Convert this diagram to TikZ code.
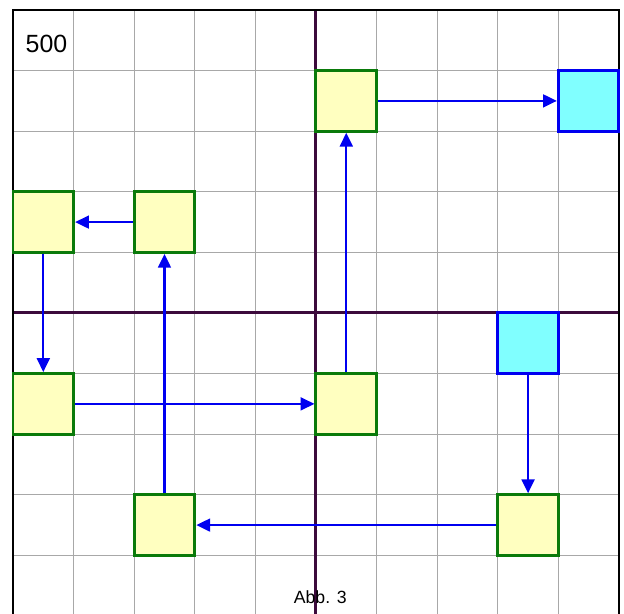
\documentclass[tikz,border=0pt]{standalone}
\usepackage{fontspec}
\setmainfont{Liberation Sans}
\usetikzlibrary{arrows.meta,positioning}
\definecolor{cellgrey}{HTML}{A8A8A8}
\definecolor{axisplum}{HTML}{3C0A3C}
\definecolor{boxgreen}{HTML}{0A7A0A}
\definecolor{boxfill}{HTML}{FFFFC0}
\definecolor{termfill}{HTML}{80FFFF}
\definecolor{flowblue}{HTML}{0000F0}
\tikzset{
  cell/.style={rectangle, draw=boxgreen, fill=boxfill, line width=1.4pt,
               minimum size=1cm, inner sep=0pt},
  term/.style={cell, draw=flowblue, fill=termfill},
  flow/.style={-{Triangle[length=6.5pt,width=6pt]}, draw=flowblue, line width=1.1pt},
  gridline/.style={draw=cellgrey, line width=0.6pt},
  axisline/.style={draw=axisplum, line width=1.4pt},
  frameline/.style={draw=black, line width=1pt}
}

\begin{document}
\begin{tikzpicture}
 \useasboundingbox (-0.2145,0.033) rectangle (10.083,10.165);
 % grid, axes and frame
 \draw[gridline] (0,0) grid (10,10);
 \draw[axisline] (5,0)--(5,10); \draw[axisline] (0,5)--(10,5);
 \draw[frameline] (0,0) rectangle (10,10);
 \node[font=\fontsize{11.7}{14}\selectfont] (count) at (0.553,9.44) {500};
 \node[font=\fontsize{8.3}{10}\selectfont] (caption) at (5.07,0.31) {Abb. 3};
 % boxes
 \node[term] (start) at (8.5,4.5) {};
 \node[term] (end) at (9.5,8.5) {};
 \node[cell] (s1) at (8.5,1.5) {};
 \node[cell] (s2) at (2.5,1.5) {};
 \node[cell] (s3) at (2.5,6.5) {};
 \node[cell] (s4) at (0.5,6.5) {};
 \node[cell] (s5) at (0.5,3.5) {};
 \node[cell] (s6) at (5.5,3.5) {};
 \node[cell] (s7) at (5.5,8.5) {};
 % path
 \draw[flow](start)--(s1); \draw[flow](s1)--(s2); \draw[flow](s2)--(s3);
 \draw[flow](s3)--(s4); \draw[flow](s4)--(s5); \draw[flow](s5)--(s6);
 \draw[flow](s6)--(s7); \draw[flow](s7)--(end);
\end{tikzpicture}
\end{document}
